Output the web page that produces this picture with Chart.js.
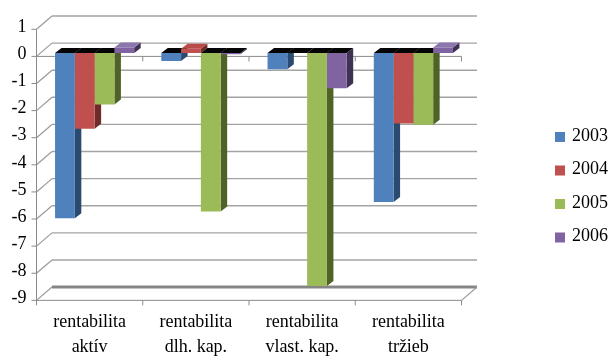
<!DOCTYPE html>
<html>
<head>
<meta charset="utf-8">
<script src="https://cdn.jsdelivr.net/npm/chart.js@4/dist/chart.umd.min.js"></script>
<style>
  html, body { margin: 0; padding: 0; background: #ffffff; }
  canvas { display: block; }
</style>
</head>
<body>
<canvas id="chart" width="611" height="356"></canvas>
<script>
// Ukazovatele rentability podľa rokov
const categories = [
  ['rentabilita', 'aktív'],
  ['rentabilita', 'dlh. kap.'],
  ['rentabilita', 'vlast. kap.'],
  ['rentabilita', 'tržieb']
];
const years = ['2003', '2004', '2005', '2006'];
const values2003 = [-6.1, -0.3, -0.6, -5.5];
const values2004 = [-2.8, 0.15, 0, -2.6];
const values2005 = [-1.9, -5.85, -8.6, -2.65];
const values2006 = [0.2, -0.05, -1.3, 0.2];
const yMin = -9;
const yMax = 1;
const yStep = 1;

// Farby: predná stena, bočná stena, horná plocha stĺpca
const frontColors = ['#4F81BD', '#C0504D', '#9BBB59', '#8064A2'];
const sideColors  = ['#2B4A70', '#6F2B29', '#4F6228', '#3F3151'];
const capColors   = ['#6B93C6', '#B84C49', '#AAC46F', '#8B76AE'];

const FONT = "'Liberation Serif', 'Times New Roman', serif";

// Priestorové posuny: predná rovina osí, zadná stena, hĺbka stĺpca
const FRONT = { dx: -5, dy: 3.5 };
const BACK = { dx: 10.5, dy: -9.8 };
const BAR_DEPTH = { dx: 6.5, dy: -5 };

const seriesValues = [values2003, values2004, values2005, values2006];

const depthPlugin = {
  id: 'depth3d',
  beforeDatasetsDraw(chart) {
    const ctx = chart.ctx;
    const ys = chart.scales.y;
    const xs = chart.scales.x;
    const a = chart.chartArea;
    ctx.save();

    // zadná stena - mriežka a bočné uhlopriečky
    ys.ticks.forEach(t => {
      const p = ys.getPixelForValue(t.value);
      if (t.value !== yMin) {
        ctx.strokeStyle = '#A3A3A3';
        ctx.lineWidth = 1.4;
        ctx.beginPath();
        ctx.moveTo(a.left + BACK.dx, p + BACK.dy);
        ctx.lineTo(a.right + BACK.dx, p + BACK.dy);
        ctx.stroke();
      }
      ctx.strokeStyle = '#9A9A9A';
      ctx.lineWidth = 1.2;
      ctx.beginPath();
      ctx.moveTo(a.left + FRONT.dx, p + FRONT.dy);
      ctx.lineTo(a.left + BACK.dx, p + BACK.dy);
      ctx.stroke();
      // značky na prednej osi
      ctx.strokeStyle = '#8A8A8A';
      ctx.lineWidth = 1;
      ctx.beginPath();
      ctx.moveTo(a.left + FRONT.dx - 5, p + FRONT.dy);
      ctx.lineTo(a.left + FRONT.dx, p + FRONT.dy);
      ctx.stroke();
    });

    // podlaha
    const pMin = ys.getPixelForValue(yMin);
    ctx.strokeStyle = '#858585';
    ctx.lineWidth = 3;
    ctx.beginPath();
    ctx.moveTo(a.left + BACK.dx, pMin + BACK.dy);
    ctx.lineTo(a.right + BACK.dx, pMin + BACK.dy);
    ctx.stroke();
    ctx.strokeStyle = '#9A9A9A';
    ctx.lineWidth = 1.2;
    ctx.beginPath();
    ctx.moveTo(a.right + FRONT.dx, pMin + FRONT.dy);
    ctx.lineTo(a.right + BACK.dx, pMin + BACK.dy);
    ctx.stroke();

    // predná zvislá os
    const pMax = ys.getPixelForValue(yMax);
    ctx.strokeStyle = '#8A8A8A';
    ctx.lineWidth = 1;
    ctx.beginPath();
    ctx.moveTo(a.left + FRONT.dx, pMax + FRONT.dy);
    ctx.lineTo(a.left + FRONT.dx, pMin + FRONT.dy);
    ctx.stroke();

    // predné vodorovné osi (nula a spodok) so značkami medzi kategóriami
    const n = xs.ticks.length;
    const step = (a.right - a.left) / n;
    [0, yMin].forEach(v => {
      const p = ys.getPixelForValue(v) + FRONT.dy;
      ctx.beginPath();
      ctx.moveTo(a.left + FRONT.dx, p);
      ctx.lineTo(a.right + FRONT.dx, p);
      for (let i = 0; i <= n; i++) {
        const xx = a.left + FRONT.dx + i * step;
        ctx.moveTo(xx, p);
        ctx.lineTo(xx, p + 5);
      }
      ctx.stroke();
    });

    // bočné a horné plochy stĺpcov
    chart.data.datasets.forEach((ds, di) => {
      const meta = chart.getDatasetMeta(di);
      meta.data.forEach((bar, i) => {
        const { x, y, base, width } = bar.getProps(['x', 'y', 'base', 'width'], true);
        const x0 = x - width / 2;
        const x1 = x + width / 2;
        const top = Math.min(y, base);
        const bot = Math.max(y, base);
        const v = ds.data[i];
        const dx = BAR_DEPTH.dx, dy = BAR_DEPTH.dy;
        // bočná plocha
        ctx.fillStyle = sideColors[di];
        ctx.beginPath();
        ctx.moveTo(x1, top);
        ctx.lineTo(x1, bot);
        ctx.lineTo(x1 + dx, bot + dy);
        ctx.lineTo(x1 + dx, top + dy);
        ctx.closePath();
        ctx.fill();
        // horná plocha
        ctx.fillStyle = v > 0 ? capColors[di] : '#050505';
        ctx.beginPath();
        ctx.moveTo(x0, top);
        ctx.lineTo(x1, top);
        ctx.lineTo(x1 + dx, top + dy);
        ctx.lineTo(x0 + dx, top + dy);
        ctx.closePath();
        ctx.fill();
      });
    });
    ctx.restore();
  },
  afterDraw(chart) {
    // legenda vpravo
    const ctx = chart.ctx;
    ctx.save();
    ctx.font = '18px ' + FONT;
    ctx.textBaseline = 'middle';
    ctx.textAlign = 'left';
    const y0 = 137, gap = 33.5;
    chart.data.datasets.forEach((ds, i) => {
      const cy = y0 + i * gap;
      ctx.fillStyle = ds.backgroundColor;
      ctx.fillRect(555, cy - 5, 10, 10);
      ctx.fillStyle = '#000000';
      ctx.fillText(ds.label, 572, cy - 1);
    });
    ctx.restore();
  }
};

new Chart(document.getElementById('chart'), {
  type: 'bar',
  data: {
    labels: categories,
    datasets: years.map((yr, i) => ({
      label: yr,
      data: seriesValues[i],
      backgroundColor: frontColors[i],
      borderWidth: 0,
      barPercentage: 1,
      categoryPercentage: 0.745
    }))
  },
  options: {
    responsive: false,
    animation: false,
    events: [],
    layout: { padding: { top: 25.35, right: 144.5, left: 0, bottom: 0 } },
    plugins: {
      legend: { display: false },
      tooltip: { enabled: false }
    },
    scales: {
      x: {
        grid: { display: false, drawTicks: false },
        border: { display: false },
        ticks: {
          color: '#000000',
          font: { family: FONT, size: 18, lineHeight: 25 / 18 },
          padding: 12.65,
          labelOffset: -5,
          maxRotation: 0,
          autoSkip: false
        },
        afterFit(scale) { scale.height = 356 - 296.85; }
      },
      y: {
        min: yMin,
        max: yMax,
        grid: { display: false, drawTicks: false },
        border: { display: false },
        ticks: {
          stepSize: yStep,
          color: '#000000',
          font: { family: FONT, size: 18 },
          padding: 15,
          labelOffset: 1.5
        },
        afterFit(scale) { scale.width = 41.5; }
      }
    }
  },
  plugins: [depthPlugin]
});
</script>
</body>
</html>
